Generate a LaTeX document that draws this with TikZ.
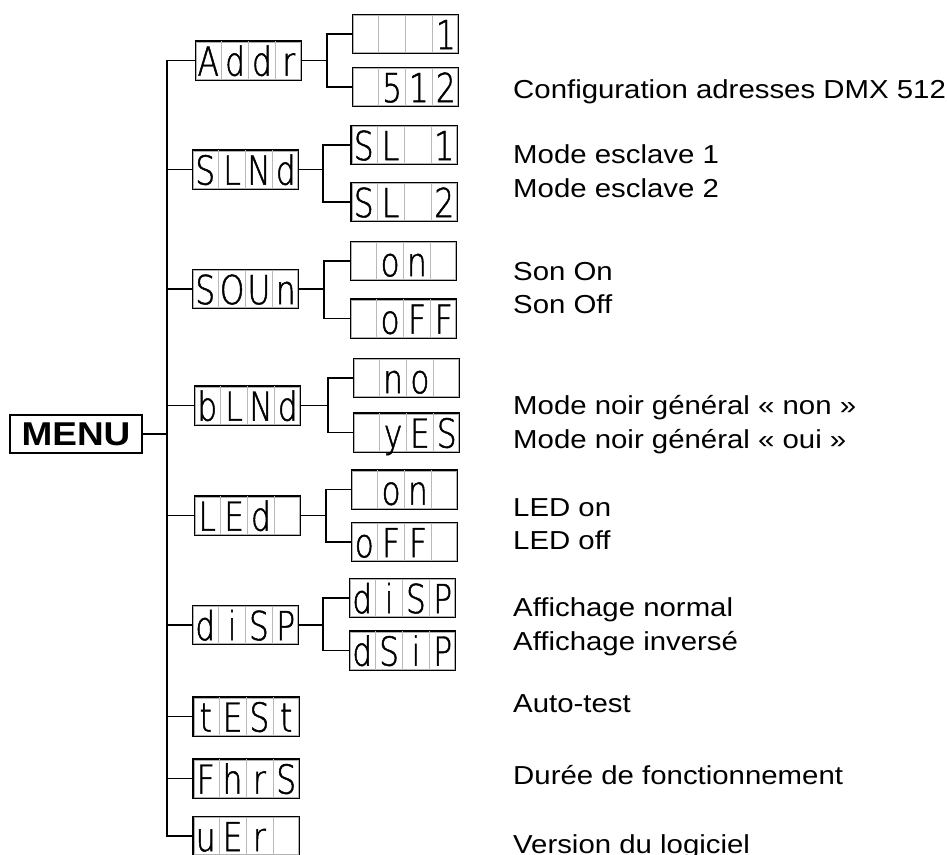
\documentclass[tikz,border=0pt]{standalone}
\usepackage{fontspec}
\setmainfont{Liberation Sans}
\newfontfamily\labelfont[FakeStretch=1.13]{Liberation Sans}
\newfontfamily\menufont[FakeStretch=1.12]{Liberation Sans}
\newfontfamily\segfont[FakeStretch=0.78,FakeBold=1.2]{DejaVu Sans ExtraLight}
\usetikzlibrary{calc}
\tikzset{
 dispbox/.style={draw, line width=1.3pt, minimum width=106pt, minimum height=39pt, inner sep=0pt},
 celldiv/.style={draw=gray!55, line width=0.6pt},
 segchar/.style={font=\segfont\fontsize{40}{40}\selectfont, inner sep=0pt, anchor=base},
 conn/.style={line width=1.4pt},
 lbl/.style={font=\labelfont\fontsize{26}{30}\selectfont, anchor=base west, inner sep=0pt},
 menubox/.style={draw, line width=1.4pt, minimum width=132pt, minimum height=38pt, inner sep=0pt, font=\menufont\bfseries\fontsize{33}{33}\selectfont}
}
\newcommand\segdisp[6]{%
 \node[dispbox] (#1) at (#2) {};
 \draw[gray!60, line width=0.5pt] ($(#1.south west)+(1.8,-1.8)$) rectangle ($(#1.north east)+(-1.8,1.8)$);
 \foreach \f in {0.25,0.5,0.75}{\draw[celldiv] ($(#1.south west)!\f!(#1.south east)+(0,-0.7)$) -- ($(#1.north west)!\f!(#1.north east)+(0,0.7)$);}
 \node[segchar] at ($(#1.south west)!0.125!(#1.south east)+(0,-5)$) {#3};
 \node[segchar] at ($(#1.south west)!0.375!(#1.south east)+(0,-5)$) {#4};
 \node[segchar] at ($(#1.south west)!0.625!(#1.south east)+(0,-5)$) {#5};
 \node[segchar] at ($(#1.south west)!0.875!(#1.south east)+(0,-5)$) {#6};
}
\begin{document}
\begin{tikzpicture}[x=1pt,y=-1pt]
\useasboundingbox[fill=white] (0,0) rectangle (947,854);
% menu
\node[menubox] (menu) at (76,434) {MENU};
\coordinate (trunk) at (167,434);
% level 1
\segdisp{addr}{248.5,60.5}{A}{d}{d}{r}
\segdisp{slnd}{245.5,169.5}{S}{L}{N}{d}
\segdisp{soun}{245.5,289}{S}{O}{U}{n}
\segdisp{blnd}{247.5,405.5}{b}{L}{N}{d}
\segdisp{led}{247.5,515.5}{L}{E}{d}{}
\segdisp{disp}{245.5,625}{d}{i}{S}{P}
\segdisp{test}{246,716.5}{t}{E}{S}{t}
\segdisp{fhrs}{246,778.5}{F}{h}{r}{S}
\segdisp{uer}{246,836}{u}{E}{r}{}
% level 2
\segdisp{a1}{405.5,34}{}{}{}{1}
\segdisp{a2}{405.5,87}{}{5}{1}{2}
\segdisp{s1}{404,145}{S}{L}{}{1}
\segdisp{s2}{404,202}{S}{L}{}{2}
\segdisp{o1}{403.5,261}{}{o}{n}{}
\segdisp{o2}{403.5,318.5}{}{o}{F}{F}
\segdisp{n1}{406.5,378}{}{n}{o}{}
\segdisp{n2}{406.5,432.5}{}{y}{E}{S}
\segdisp{l1}{404.5,489.5}{}{o}{n}{}
\segdisp{l2}{404.5,542}{o}{F}{F}{}
\segdisp{d1}{402.5,598}{d}{i}{S}{P}
\segdisp{d2}{402.5,650.5}{d}{S}{i}{P}
% branch points
\coordinate (ba) at (327,60.5);
\coordinate (bs) at (323,169.5);
\coordinate (bo) at (324,289);
\coordinate (bb) at (328,405.5);
\coordinate (bl) at (326,515.5);
\coordinate (bd) at (323,625);
% trunk connectors
\draw[conn] (menu.east) -- (trunk);
\draw[conn] (addr.west) -| (trunk) |- (uer.west);
\foreach \n in {slnd,soun,blnd,led,disp,test,fhrs}{\draw[conn] (\n.west) -- (\n.west -| trunk);}
% sub connectors
\draw[conn] (addr.east) -- (ba); \draw[conn] (a1.west) -| (ba) |- (a2.west);
\draw[conn] (slnd.east) -- (bs); \draw[conn] (s1.west) -| (bs) |- (s2.west);
\draw[conn] (soun.east) -- (bo); \draw[conn] (o1.west) -| (bo) |- (o2.west);
\draw[conn] (blnd.east) -- (bb); \draw[conn] (n1.west) -| (bb) |- (n2.west);
\draw[conn] (led.east) -- (bl); \draw[conn] (l1.west) -| (bl) |- (l2.west);
\draw[conn] (disp.east) -- (bd); \draw[conn] (d1.west) -| (bd) |- (d2.west);
% labels
\node[lbl] (t1) at (513,98.3) {Configuration adresses DMX 512};
\node[lbl] (t2) at (513,163.3) {Mode esclave 1};
\node[lbl] (t3) at (513,197.7) {Mode esclave 2};
\node[lbl] (t4) at (513,280) {Son On};
\node[lbl] (t5) at (513,313.3) {Son Off};
\node[lbl] (t6) at (513,414.3) {Mode noir général « non »};
\node[lbl] (t7) at (513,448.3) {Mode noir général « oui »};
\node[lbl] (t8) at (513,516) {LED on};
\node[lbl] (t9) at (513,549.3) {LED off};
\node[lbl] (t10) at (513,616.7) {Affichage normal};
\node[lbl] (t11) at (513,650.3) {Affichage inversé};
\node[lbl] (t12) at (513,712.7) {Auto-test};
\node[lbl] (t13) at (513,784.3) {Durée de fonctionnement};
\node[lbl] (t14) at (513,853.5) {Version du logiciel};
\end{tikzpicture}
\end{document}
